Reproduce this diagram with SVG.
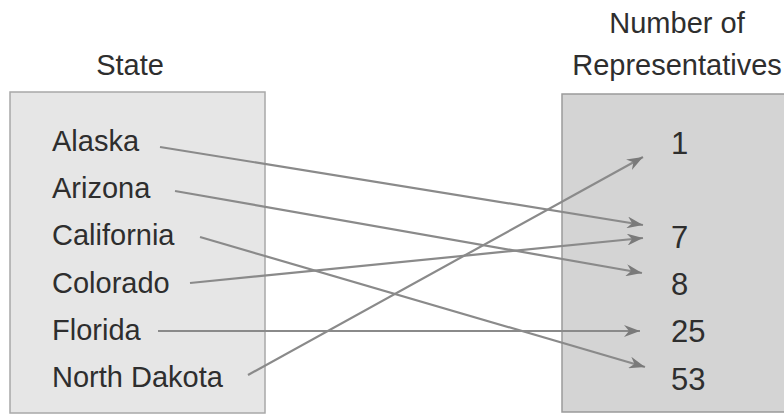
<svg xmlns="http://www.w3.org/2000/svg" width="784" height="417" viewBox="0 0 784 417">
<style>
.t{font-family:"Liberation Sans",Arial,sans-serif;font-size:29px;fill:#2e2e2e}
.n{font-family:"Liberation Sans",Arial,sans-serif;font-size:31px;fill:#2e2e2e}
.c{stroke:#8a8a8a;stroke-width:2.2;fill:none;marker-end:url(#ah)}
</style>
<defs>
<marker id="ah" markerUnits="userSpaceOnUse" markerWidth="18" markerHeight="12" refX="16" refY="6" orient="auto">
<path d="M0,0 L16,6 L0,12 L5,6 z" fill="#7a7a7a"/>
</marker>
</defs>
<rect width="784" height="417" fill="#fff"/>
<g id="state">
<text class="t" x="130" y="75" text-anchor="middle">State</text>
<rect x="10" y="92" width="255" height="321" fill="#e6e6e6" stroke="#a8a8a8" stroke-width="1.5"/>
<text class="t" x="52" y="151">Alaska</text>
<text class="t" x="52" y="198">Arizona</text>
<text class="t" x="52" y="245">California</text>
<text class="t" x="52" y="293">Colorado</text>
<text class="t" x="52" y="340">Florida</text>
<text class="t" x="52" y="387">North Dakota</text>
</g>
<g id="reps">
<text class="t" x="677" y="33" text-anchor="middle">Number of</text>
<text class="t" x="677" y="75" text-anchor="middle">Representatives</text>
<rect x="562" y="94" width="230" height="318" fill="#d4d4d4" stroke="#9a9a9a" stroke-width="1.5"/>
<text class="n" x="671" y="154">1</text>
<text class="n" x="671" y="248">7</text>
<text class="n" x="671" y="295">8</text>
<text class="n" x="671" y="342">25</text>
<text class="n" x="671" y="390">53</text>
</g>
<g id="connectors">
<line class="c" x1="160" y1="147" x2="643" y2="225"/>
<line class="c" x1="175" y1="191" x2="642" y2="273"/>
<line class="c" x1="200" y1="237" x2="645" y2="367"/>
<line class="c" x1="190" y1="283" x2="643" y2="238"/>
<line class="c" x1="158" y1="331" x2="640" y2="331"/>
<line class="c" x1="248" y1="375" x2="643" y2="157"/>
</g>
</svg>
